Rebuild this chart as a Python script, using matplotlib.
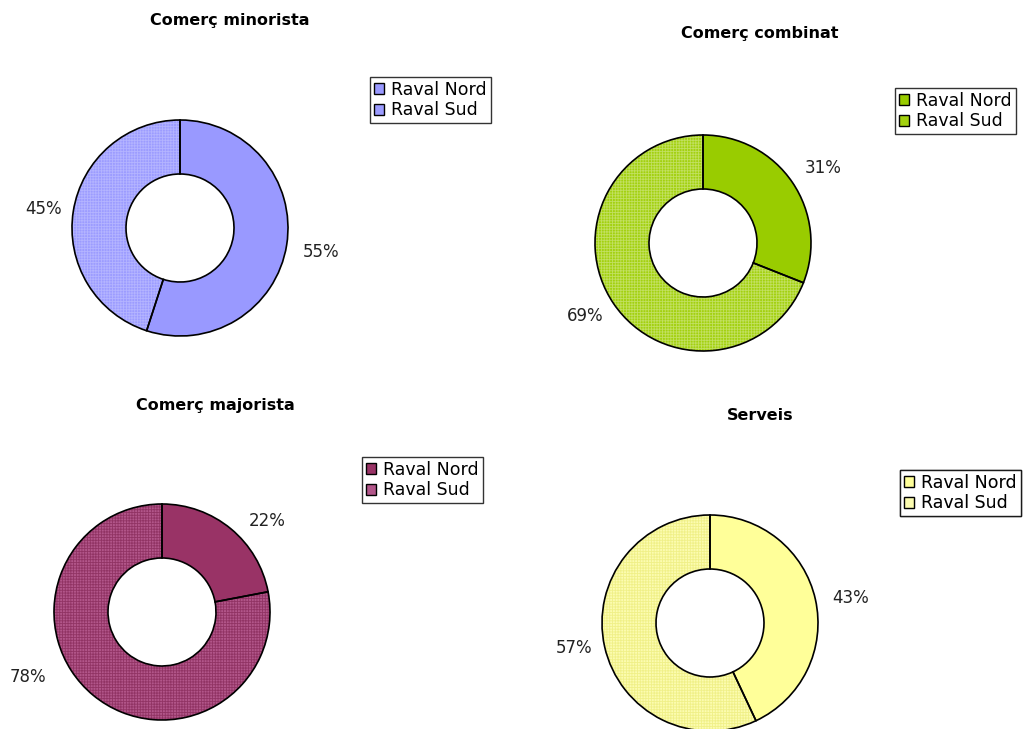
import matplotlib
matplotlib.use("Agg")
import matplotlib.pyplot as plt
from matplotlib.patches import Patch

plt.rcParams["font.family"] = ["DejaVu Sans"]
plt.rcParams["hatch.linewidth"] = 0.6

W, H = 1027, 729

# Share of establishments per district, by activity
titles = ["Comerç minorista", "Comerç combinat", "Comerç majorista", "Serveis"]
districts = ["Raval Nord", "Raval Sud"]
minorista = [55, 45]
combinat = [31, 69]
majorista = [22, 78]
serveis = [43, 57]
series = [minorista, combinat, majorista, serveis]

# (Nord colour, Sud base colour, Sud dot colour)
palettes = [
    ("#9999FF", "#9C9CFF", "#B4B4FF"),
    ("#99CC00", "#A3D10F", "#C2E060"),
    ("#993366", "#B2568A", "#913464"),
    ("#FFFF99", "#FCFCB0", "#F0F088"),
]

# layout in pixels (top-left origin)
centers = [(180, 228), (703, 243), (162, 612), (710, 623)]
title_pos = [(230, 20), (760, 33), (215, 405), (760, 415)]
legend_pos = [(370, 77), (895, 88), (362, 457), (900, 470)]
label_pos = [[(321, 252), (44, 209)],
             [(823, 168), (585, 316)],
             [(267, 521), (28, 677)],
             [(851, 598), (574, 648)]]
radius = 108
hole = 0.5

fig = plt.figure(figsize=(W / 100, H / 100), dpi=100)
ax = fig.add_axes([0, 0, 1, 1])
ax.set_xlim(0, W)
ax.set_ylim(0, H)
ax.axis("off")

for vals, title, pal, (cx, cy), (tx, ty), (lx, ly), lpos in zip(
        series, titles, palettes, centers, title_pos, legend_pos, label_pos):
    c = (cx, H - cy)
    # textured fill
    wedges, _ = ax.pie(vals, center=c, radius=radius, startangle=90,
                       counterclock=False, colors=[pal[0], pal[1]],
                       wedgeprops=dict(width=radius * hole, linewidth=0))
    wedges[1].set_hatch("++++++")
    wedges[1].set_edgecolor(pal[2])
    # outlines
    ax.pie(vals, center=c, radius=radius, startangle=90, counterclock=False,
           colors=["none", "none"],
           wedgeprops=dict(width=radius * hole, edgecolor="black",
                           linewidth=1.2))
    # value labels
    total = sum(vals)
    for v, (px, py) in zip(vals, lpos):
        ax.text(px, H - py, f"{100 * v / total:.0f}%", ha="center",
                va="center", fontsize=12, color="#222222")
    ax.text(tx, H - ty, title, ha="center", va="center", fontsize=11.5,
            fontweight="bold", color="black")
    handles = [Patch(facecolor=pal[0], edgecolor="black", linewidth=1.0),
               Patch(facecolor=pal[1], edgecolor="black", linewidth=1.0)]
    leg = ax.legend(handles, districts, loc="upper left",
                    bbox_to_anchor=(lx / W, 1 - ly / H),
                    bbox_transform=fig.transFigure, fontsize=12.5,
                    frameon=True, fancybox=False, borderpad=0.22,
                    handlelength=0.6, handleheight=0.6, handletextpad=0.4,
                    labelspacing=0.15, borderaxespad=0)
    leg.get_frame().set_edgecolor("black")
    leg.get_frame().set_linewidth(1.0)
    ax.add_artist(leg)

ax.set_xlim(0, W)
ax.set_ylim(0, H)
ax.set_aspect("auto")
fig.savefig("out.png", dpi=100)
